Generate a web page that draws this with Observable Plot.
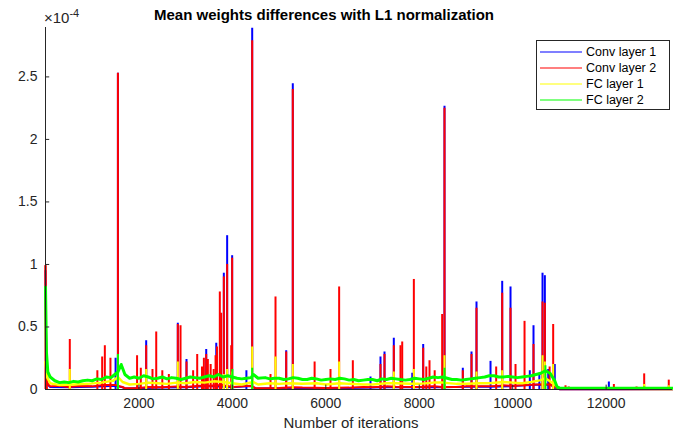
<!DOCTYPE html>
<html>
<head>
<meta charset="utf-8">
<script src="https://cdn.jsdelivr.net/npm/d3@7"></script>
<script src="https://cdn.jsdelivr.net/npm/@observablehq/plot@0.6"></script>
<style>
  html, body { margin: 0; padding: 0; background: #fff; }
  #chart { width: 673px; height: 437px; }
</style>
</head>
<body>
<div id="chart"></div>
<script>
// Values in units of 1e-4 (axis shows ×10^-4)
const seriesNames = ["Conv layer 1", "Conv layer 2", "FC layer 1", "FC layer 2"];
const seriesColors = ["#0000ff", "#ff0000", "#ffff00", "#00ff00"];
const iterTicks = [2000, 4000, 6000, 8000, 10000, 12000];
const valueTicks = [0, 0.5, 1, 1.5, 2, 2.5];
const titleText = "Mean weights differences with L1 normalization";
const xLabelText = "Number of iterations";

// baseline levels [iteration, value]
const conv1Base = [[0,0.95],[15,0.3],[40,0.04],[100,0.02],[500,0.017],[1000,0.022],[1500,0.03],[1650,0.017],[1700,0.008],[2000,0.01],[2500,0.015],[3000,0.018],[3500,0.027],[4000,0.018],[4400,0.027],[4500,0.008],[5000,0.01],[5500,0.012],[6000,0.01],[6500,0.012],[7000,0.015],[7500,0.02],[8000,0.018],[8500,0.018],[9000,0.022],[9500,0.022],[10000,0.027],[10500,0.037],[10800,0.037],[11000,0.003],[13420,0.002]];
const conv2Base = [[0,0.99],[15,0.3],[40,0.05],[100,0.025],[300,0.03],[500,0.02],[700,0.028],[1000,0.025],[1200,0.035],[1500,0.035],[1650,0.02],[1700,0.01],[2000,0.012],[2200,0.02],[2500,0.018],[2800,0.025],[3000,0.02],[3300,0.03],[3500,0.03],[3800,0.035],[4000,0.02],[4200,0.025],[4400,0.03],[4500,0.01],[5000,0.012],[5300,0.018],[5500,0.015],[6000,0.012],[6500,0.015],[6800,0.02],[7000,0.018],[7300,0.025],[7500,0.022],[8000,0.02],[8300,0.027],[8500,0.02],[8800,0.02],[9000,0.025],[9500,0.025],[9800,0.033],[10000,0.03],[10300,0.035],[10500,0.04],[10800,0.04],[11000,0.003],[13420,0.002]];
const fc1Base = [[0,0.22],[30,0.1],[100,0.05],[300,0.035],[600,0.04],[900,0.045],[1200,0.055],[1350,0.065],[1450,0.07],[1550,0.1],[1650,0.06],[1800,0.04],[2000,0.045],[2200,0.055],[2400,0.05],[2600,0.045],[2800,0.055],[3000,0.05],[3200,0.06],[3400,0.055],[3600,0.065],[3800,0.06],[4000,0.05],[4200,0.04],[4450,0.06],[4550,0.04],[4800,0.05],[5000,0.045],[5200,0.05],[5500,0.045],[5800,0.05],[6000,0.04],[6300,0.05],[6500,0.045],[6800,0.04],[7000,0.04],[7300,0.05],[7500,0.05],[7800,0.045],[8000,0.045],[8300,0.055],[8500,0.055],[8800,0.045],[9000,0.045],[9300,0.05],[9500,0.05],[9800,0.06],[10000,0.055],[10200,0.05],[10400,0.06],[10600,0.075],[10700,0.09],[10900,0.04],[11000,0.008],[13420,0.005]];
const fc2Base = [[0,0.82],[20,0.3],[50,0.14],[100,0.1],[200,0.07],[300,0.055],[400,0.06],[500,0.055],[600,0.065],[700,0.06],[800,0.07],[900,0.075],[1000,0.07],[1100,0.085],[1200,0.08],[1300,0.1],[1400,0.095],[1450,0.11],[1550,0.14],[1620,0.2],[1700,0.12],[1800,0.09],[1900,0.1],[2000,0.09],[2100,0.11],[2200,0.1],[2300,0.085],[2400,0.09],[2500,0.1],[2600,0.085],[2700,0.095],[2800,0.09],[2900,0.08],[3000,0.09],[3100,0.1],[3200,0.095],[3300,0.09],[3400,0.1],[3500,0.11],[3600,0.1],[3700,0.12],[3800,0.1],[3900,0.11],[4000,0.1],[4100,0.09],[4200,0.085],[4300,0.09],[4400,0.095],[4450,0.12],[4550,0.09],[4700,0.095],[4800,0.085],[4900,0.09],[5000,0.09],[5100,0.08],[5200,0.085],[5300,0.095],[5400,0.09],[5500,0.08],[5600,0.08],[5700,0.09],[5800,0.085],[5900,0.075],[6000,0.08],[6100,0.085],[6200,0.08],[6300,0.09],[6400,0.085],[6500,0.075],[6600,0.08],[6700,0.07],[6800,0.075],[6900,0.08],[7000,0.08],[7100,0.07],[7200,0.085],[7300,0.08],[7400,0.09],[7500,0.085],[7600,0.08],[7700,0.075],[7800,0.08],[7900,0.09],[8000,0.085],[8100,0.08],[8200,0.09],[8300,0.1],[8400,0.095],[8500,0.1],[8600,0.09],[8700,0.08],[8800,0.08],[8900,0.075],[9000,0.08],[9100,0.085],[9200,0.09],[9300,0.095],[9400,0.1],[9500,0.11],[9600,0.11],[9700,0.1],[9800,0.1],[9900,0.105],[10000,0.1],[10100,0.095],[10200,0.1],[10300,0.105],[10400,0.11],[10500,0.12],[10600,0.13],[10700,0.15],[10800,0.13],[10900,0.07],[10950,0.02],[11000,0.012],[11500,0.01],[12000,0.01],[13420,0.01]];

// spike peaks [iteration, value]
const conv1Spikes = [[1550,2.53],[4424,2.89],[5293,2.445],[8540,2.265],[3888,1.23],[3995,1.07],[3817,0.93],[10638,0.93],[10688,0.91],[9775,0.865],[9953,0.82],[9225,0.7],[2832,0.53],[10445,0.51],[7455,0.41],[2155,0.39],[3655,0.37],[8084,0.36],[3440,0.32],[5152,0.31],[7256,0.3],[9118,0.3],[7170,0.26],[1500,0.25],[3018,0.24],[9525,0.225],[10900,0.2],[8932,0.17],[10366,0.15],[4300,0.15],[7850,0.13],[6956,0.1],[12058,0.06],[10570,0.13],[10760,0.16]];
const conv2Spikes = [[0,0.99],[30,0.27],[520,0.4],[1110,0.15],[1213,0.26],[1270,0.35],[1390,0.25],[1550,2.53],[1960,0.27],[2040,0.17],[2155,0.35],[2290,0.16],[2370,0.46],[2500,0.15],[2640,0.12],[2832,0.52],[2890,0.51],[3018,0.22],[3160,0.15],[3247,0.28],[3350,0.18],[3390,0.25],[3440,0.28],[3475,0.24],[3535,0.2],[3600,0.16],[3640,0.27],[3670,0.34],[3731,0.78],[3760,0.61],[3817,0.9],[3888,1.0],[3975,0.35],[3995,1.05],[4424,2.79],[4816,0.12],[4923,0.74],[5152,0.3],[5293,2.4],[5760,0.22],[6100,0.16],[6285,0.82],[6578,0.23],[7170,0.2],[7256,0.28],[7455,0.35],[7598,0.35],[7635,0.38],[7884,0.88],[8084,0.33],[8150,0.18],[8219,0.23],[8330,0.15],[8490,0.6],[8540,2.25],[8932,0.15],[9118,0.28],[9225,0.65],[9646,0.18],[9775,0.77],[9953,0.65],[10060,0.2],[10253,0.545],[10445,0.36],[10638,0.7],[10688,0.69],[10790,0.18],[10866,0.52],[11130,0.03],[11200,0.02],[12165,0.04],[12650,0.02],[12814,0.125],[13200,0.015],[13340,0.075]];
const fc1Spikes = [[520,0.16],[1550,0.17],[2155,0.16],[2832,0.22],[3817,0.12],[3888,0.16],[3995,0.14],[4424,0.34],[4923,0.26],[5293,0.2],[6285,0.22],[7455,0.14],[7884,0.16],[8540,0.27],[9225,0.14],[9775,0.15],[10638,0.27],[10688,0.22],[10866,0.2],[12814,0.04],[13340,0.03]];
const fc2Spikes = [[1550,0.28],[4000,0.16],[4424,0.17],[8540,0.17],[10700,0.19],[12814,0.02]];

const bases = [conv1Base, conv2Base, fc1Base, fc2Base];
const spikes = [conv1Spikes, conv2Spikes, fc1Spikes, fc2Spikes];
const lineWidths = [2, 2, 2.5, 3];

const axisColor = "#262626";
const font = "'Liberation Sans', Arial, Helvetica, sans-serif";

const seriesMarks = [];
bases.forEach((b, i) => {
  seriesMarks.push(Plot.line(b, {x: d => d[0], y: d => d[1], stroke: seriesColors[i], strokeWidth: lineWidths[i]}));
  seriesMarks.push(Plot.ruleX(spikes[i], {x: d => d[0], y1: 0, y2: d => d[1], stroke: seriesColors[i], strokeWidth: 2}));
});

const chart = Plot.plot({
  width: 673,
  height: 437,
  marginLeft: 45,
  marginRight: 1,
  marginTop: 27,
  marginBottom: 48,
  x: {domain: [0, 13420]},
  y: {domain: [0, 2.895]},
  style: {fontFamily: font, fontSize: "14px", color: axisColor, background: "white"},
  marks: [
    ...seriesMarks,
    Plot.ruleX([0], {stroke: axisColor, strokeWidth: 1}),
    Plot.ruleY([0], {stroke: axisColor, strokeWidth: 1}),
    Plot.ruleX(iterTicks, {y1: 0, y2: 0.035, stroke: axisColor}),
    Plot.ruleY(valueTicks, {x1: 0, x2: 90, stroke: axisColor}),
    Plot.axisX({ticks: iterTicks, tickSize: 0, tickPadding: 9, tickFormat: d => String(d), label: null}),
    Plot.axisY({ticks: valueTicks, tickSize: 0, tickPadding: 8, tickFormat: d => String(d), label: null})
  ]
});

document.getElementById("chart").appendChild(chart);

const svg = d3.select(chart);
// title
svg.append("text").attr("x", 324).attr("y", 20).attr("text-anchor", "middle")
  .attr("font-family", font).attr("font-size", "15px").attr("font-weight", "bold").attr("fill", "#000")
  .text(titleText);
// exponent
const ex = svg.append("text").attr("x", 44).attr("y", 23).attr("text-anchor", "start")
  .attr("font-family", font).attr("font-size", "15px").attr("fill", axisColor);
ex.append("tspan").text("\u00d710");
ex.append("tspan").attr("dy", -6).attr("font-size", "11px").text("-4");
// x label
svg.append("text").attr("x", 351).attr("y", 428).attr("text-anchor", "middle")
  .attr("font-family", font).attr("font-size", "15px").attr("fill", axisColor)
  .text(xLabelText);
// legend
const lg = svg.append("g");
lg.append("rect").attr("x", 536.5).attr("y", 40.5).attr("width", 133).attr("height", 69)
  .attr("fill", "white").attr("stroke", axisColor).attr("stroke-width", 1);
seriesNames.forEach((name, i) => {
  const yy = 52 + i * 16;
  lg.append("line").attr("x1", 540).attr("x2", 582).attr("y1", yy).attr("y2", yy)
    .attr("stroke", seriesColors[i]).attr("stroke-width", 1.2);
  lg.append("text").attr("x", 586).attr("y", yy).attr("dy", "0.35em").attr("text-anchor", "start")
    .attr("font-family", font).attr("font-size", "12.5px").attr("fill", "#000").text(name);
});
</script>
</body>
</html>
